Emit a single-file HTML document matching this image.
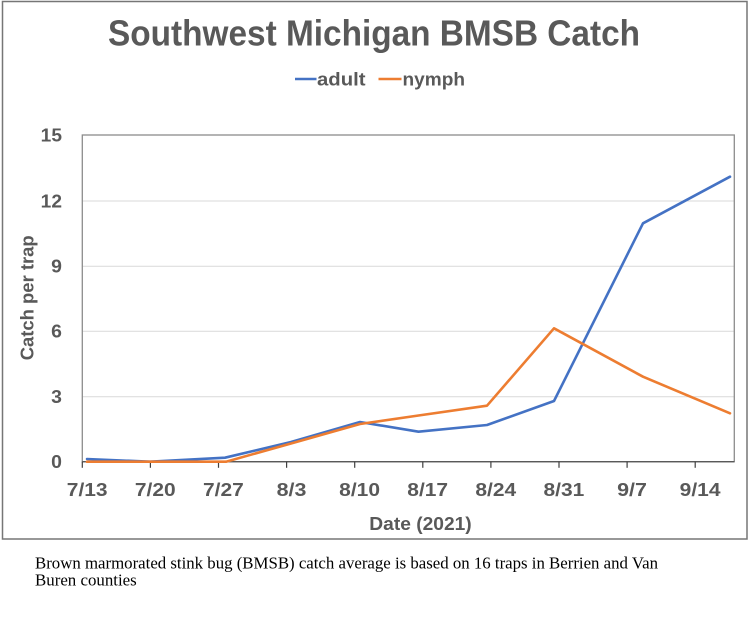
<!DOCTYPE html>
<html>
<head>
<meta charset="utf-8">
<style>
  html, body { margin: 0; padding: 0; background: #ffffff; }
  svg { display: block; }
</style>
</head>
<body>
<svg width="750" height="621" viewBox="0 0 750 621" xmlns="http://www.w3.org/2000/svg">
  <rect x="0" y="0" width="750" height="621" fill="#ffffff"/>
  <!-- outer chart border -->
  <rect x="2.5" y="1.5" width="744.5" height="537.5" fill="none" stroke="#767676" stroke-width="1.5"/>

  <!-- title -->
  <text x="108" y="45.7" font-family="Liberation Sans, sans-serif" font-weight="bold" font-size="36" fill="#595959" textLength="532" lengthAdjust="spacingAndGlyphs">Southwest Michigan BMSB Catch</text>

  <!-- legend -->
  <line x1="295" y1="79" x2="316.5" y2="79" stroke="#4472C4" stroke-width="2.5"/>
  <text x="317" y="85.5" font-family="Liberation Sans, sans-serif" font-weight="bold" font-size="18" fill="#595959" textLength="48.5" lengthAdjust="spacingAndGlyphs">adult</text>
  <line x1="378.5" y1="79" x2="401.5" y2="79" stroke="#ED7D31" stroke-width="2.5"/>
  <text x="402.5" y="85.5" font-family="Liberation Sans, sans-serif" font-weight="bold" font-size="18" fill="#595959" textLength="62.5" lengthAdjust="spacingAndGlyphs">nymph</text>

  <!-- gridlines -->
  <g stroke="#d9d9d9" stroke-width="1">
    <line x1="82.3" y1="201" x2="734.3" y2="201"/>
    <line x1="82.3" y1="266.3" x2="734.3" y2="266.3"/>
    <line x1="82.3" y1="331.3" x2="734.3" y2="331.3"/>
    <line x1="82.3" y1="396.7" x2="734.3" y2="396.7"/>
  </g>

  <!-- plot area border -->
  <rect x="82.3" y="135" width="652" height="326.7" fill="none" stroke="#8c8c8c" stroke-width="1.3"/>
  <!-- x axis -->
  <line x1="82.3" y1="461.7" x2="734.3" y2="461.7" stroke="#595959" stroke-width="1.3"/>
  <g stroke="#404040" stroke-width="1.2">
    <line x1="82.3" y1="461.7" x2="82.3" y2="467.8"/>
    <line x1="150.4" y1="461.7" x2="150.4" y2="467.8"/>
    <line x1="218.5" y1="461.7" x2="218.5" y2="467.8"/>
    <line x1="286.6" y1="461.7" x2="286.6" y2="467.8"/>
    <line x1="354.7" y1="461.7" x2="354.7" y2="467.8"/>
    <line x1="422.8" y1="461.7" x2="422.8" y2="467.8"/>
    <line x1="490.9" y1="461.7" x2="490.9" y2="467.8"/>
    <line x1="559.0" y1="461.7" x2="559.0" y2="467.8"/>
    <line x1="627.1" y1="461.7" x2="627.1" y2="467.8"/>
    <line x1="695.2" y1="461.7" x2="695.2" y2="467.8"/>
  </g>

  <!-- y tick labels -->
  <g font-family="Liberation Sans, sans-serif" font-weight="bold" font-size="18" fill="#595959" text-anchor="end">
    <text x="62" y="141.3" textLength="21.3" lengthAdjust="spacingAndGlyphs">15</text>
    <text x="62" y="207.3" textLength="21.3" lengthAdjust="spacingAndGlyphs">12</text>
    <text x="62" y="272.6" textLength="10.8" lengthAdjust="spacingAndGlyphs">9</text>
    <text x="62" y="337.6" textLength="10.8" lengthAdjust="spacingAndGlyphs">6</text>
    <text x="62" y="403" textLength="10.8" lengthAdjust="spacingAndGlyphs">3</text>
    <text x="62" y="468" textLength="10.8" lengthAdjust="spacingAndGlyphs">0</text>
  </g>

  <!-- x tick labels -->
  <g font-family="Liberation Sans, sans-serif" font-weight="bold" font-size="18" fill="#595959" text-anchor="middle">
    <text x="87.2" y="496" textLength="40.8" lengthAdjust="spacingAndGlyphs">7/13</text>
    <text x="155.3" y="496" textLength="40.8" lengthAdjust="spacingAndGlyphs">7/20</text>
    <text x="223.4" y="496" textLength="40.8" lengthAdjust="spacingAndGlyphs">7/27</text>
    <text x="291.5" y="496" textLength="29.8" lengthAdjust="spacingAndGlyphs">8/3</text>
    <text x="359.6" y="496" textLength="40.8" lengthAdjust="spacingAndGlyphs">8/10</text>
    <text x="427.7" y="496" textLength="40.8" lengthAdjust="spacingAndGlyphs">8/17</text>
    <text x="495.8" y="496" textLength="40.8" lengthAdjust="spacingAndGlyphs">8/24</text>
    <text x="563.9" y="496" textLength="40.8" lengthAdjust="spacingAndGlyphs">8/31</text>
    <text x="632.0" y="496" textLength="29.8" lengthAdjust="spacingAndGlyphs">9/7</text>
    <text x="700.1" y="496" textLength="40.8" lengthAdjust="spacingAndGlyphs">9/14</text>
  </g>

  <!-- axis titles -->
  <text transform="translate(33.7,297.8) rotate(-90)" text-anchor="middle" font-family="Liberation Sans, sans-serif" font-weight="bold" font-size="18" fill="#595959" textLength="125" lengthAdjust="spacingAndGlyphs">Catch per trap</text>
  <text x="420.5" y="530" text-anchor="middle" font-family="Liberation Sans, sans-serif" font-weight="bold" font-size="18" fill="#595959" textLength="102.4" lengthAdjust="spacingAndGlyphs">Date (2021)</text>

  <!-- series -->
  <polyline fill="none" stroke="#4472C4" stroke-width="2.6" stroke-linejoin="round" stroke-linecap="round"
    points="87,459 150,461.7 225,457.7 291,442 360,422 418.5,431.7 487,425 554,401 643,223.3 730,176.7"/>
  <polyline fill="none" stroke="#ED7D31" stroke-width="2.6" stroke-linejoin="round" stroke-linecap="round"
    points="87,461.7 150,461.7 226,461.7 291,443.5 360,424 418.5,415.5 487,405.7 554,328.3 643,376.7 730,413.3"/>

  <!-- footnote -->
  <text x="35" y="568.3" font-family="Liberation Serif, serif" font-size="16.5" fill="#000000" textLength="623" lengthAdjust="spacingAndGlyphs">Brown marmorated stink bug (BMSB) catch average is based on 16 traps in Berrien and Van</text>
  <text x="35" y="585.3" font-family="Liberation Serif, serif" font-size="16.5" fill="#000000" textLength="101.7" lengthAdjust="spacingAndGlyphs">Buren counties</text>
</svg>
</body>
</html>
